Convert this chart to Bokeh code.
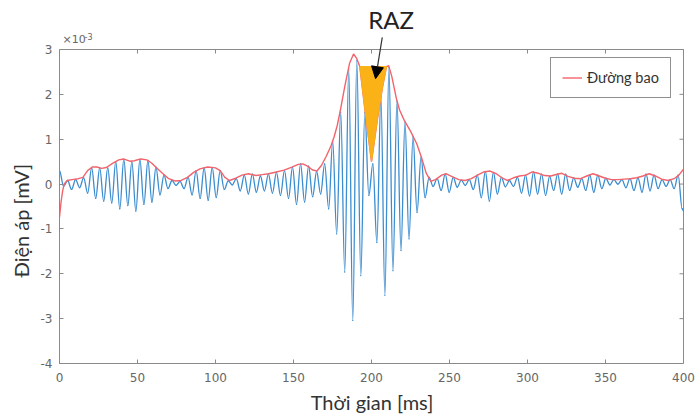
import numpy as np
from bokeh.plotting import figure
from bokeh.models import (Range1d, FixedTicker, Label, Arrow, NormalHead,
                          Legend, LegendItem, Title)
from bokeh.embed import file_html
from bokeh.resources import INLINE

# ---------------- data (voltage in units of 1e-3 mV, time in ms) ----------------
x_ticks = [0, 50, 100, 150, 200, 250, 300, 350, 400]
x_tick_labels = ["0", "50", "100", "150", "200", "250", "300", "350", "400"]
y_ticks = [-4, -3, -2, -1, 0, 1, 2, 3]
y_tick_labels = ["-4", "-3", "-2", "-1", "0", "1", "2", "3"]

# sample clock of the oscillation extremes
TROUGH_START = 2.6
CYCLE_MS = 5.15

signal_start = 0.3
signal_end = -0.6
trough_v = [
    -0.05, -0.12, -0.08, -0.20, -0.32, -0.38, -0.42, -0.55, -0.48, -0.60,
    -0.45, -0.40, -0.24, -0.10, -0.03, -0.10, -0.24, -0.32, -0.36, -0.30,
    -0.12, -0.02, -0.15, -0.22, -0.18, -0.15, -0.20, -0.25, -0.32, -0.45,
    -0.40, -0.28, -0.22, -0.55, -1.11, -1.96, -3.04, -2.04, -0.25, -1.30,
    -2.48, -1.93, -1.48, -1.22, -0.63, -0.30, -0.05, -0.14, -0.18, -0.07,
    -0.03, -0.12, -0.30, -0.38, -0.22, -0.06, -0.05, -0.20, -0.26, -0.22,
    -0.25, -0.14, -0.22, -0.14, -0.07, -0.14, -0.18, -0.10, -0.02, 0.00,
    -0.08, -0.14, -0.18, -0.15, -0.10, -0.05, -0.10, -0.55,
]
peak_v = [
    0.08, 0.10, 0.14, 0.36, 0.36, 0.36, 0.50, 0.55, 0.50, 0.55,
    0.52, 0.38, 0.20, 0.08, 0.06, 0.15, 0.30, 0.36, 0.37, 0.30,
    0.07, 0.12, 0.20, 0.22, 0.18, 0.22, 0.26, 0.30, 0.38, 0.45,
    0.40, 0.28, 0.45, 0.95, 1.60, 2.55, 2.75, 1.60, 0.45, 1.95,
    2.60, 1.85, 1.38, 1.05, 0.60, 0.15, 0.12, 0.22, 0.15, 0.09,
    0.10, 0.20, 0.28, 0.26, 0.15, 0.08, 0.15, 0.20, 0.27, 0.22,
    0.17, 0.22, 0.22, 0.14, 0.12, 0.20, 0.20, 0.13, 0.10, 0.10,
    0.12, 0.14, 0.22, 0.20, 0.10, 0.10, 0.20,
]

env_t = [0, 1, 2, 3, 5, 8, 12, 15, 18, 21, 24, 27, 30, 34, 38, 41, 45, 48, 52, 56,
         59, 62, 66, 70, 74, 78, 82, 86, 90, 95, 100, 103, 106, 109, 113, 117, 121,
         126, 130, 134, 139, 144, 149, 153, 156, 159, 162, 165, 168, 171, 174, 176,
         178, 180, 183, 186, 188.5, 190.5, 192.5, 196, 200, 204, 207, 209.6, 211,
         213, 216, 218, 221, 225, 229, 232, 235, 238, 241, 245, 248, 252, 256, 260,
         264, 268, 272, 276, 280, 284, 287, 291, 295, 299, 303, 307, 311, 315, 319,
         322, 326, 330, 334, 338, 342, 346, 350, 354, 358, 362, 366, 370, 374, 378,
         382, 386, 390, 394, 397, 400]
env_v = [-0.74, -0.40, -0.15, 0.00, 0.08, 0.10, 0.12, 0.15, 0.30, 0.38, 0.38, 0.35,
         0.37, 0.46, 0.54, 0.56, 0.51, 0.52, 0.56, 0.54, 0.47, 0.37, 0.24, 0.12,
         0.07, 0.08, 0.15, 0.26, 0.34, 0.38, 0.36, 0.30, 0.15, 0.08, 0.13, 0.20,
         0.23, 0.19, 0.21, 0.23, 0.27, 0.31, 0.38, 0.44, 0.45, 0.40, 0.32, 0.29,
         0.42, 0.62, 0.85, 1.05, 1.30, 1.64, 2.20, 2.70, 2.90, 2.80, 2.62, 1.60,
         0.50, 1.50, 2.15, 2.62, 2.64, 2.40, 1.90, 1.65, 1.42, 1.18, 0.90, 0.60,
         0.25, 0.06, 0.10, 0.20, 0.23, 0.16, 0.10, 0.08, 0.12, 0.20, 0.27, 0.29,
         0.23, 0.13, 0.08, 0.14, 0.18, 0.20, 0.27, 0.24, 0.19, 0.18, 0.22, 0.24,
         0.17, 0.13, 0.12, 0.18, 0.23, 0.18, 0.13, 0.10, 0.10, 0.11, 0.12, 0.14,
         0.18, 0.23, 0.18, 0.11, 0.08, 0.12, 0.20, 0.33]

RAZ_START = 192.5   # zone between the two envelope peaks
RAZ_END = 209.6

# ---------------- layout / style ----------------
W, H = 698, 418
BORDER_L, BORDER_R, BORDER_B = 59, 14, 55
AXES_TOP_PX = 49            # top of the axes box (frame extends to the top edge)
X0, X1 = x_ticks[0], x_ticks[-1]
Y0, Y1 = y_ticks[0], y_ticks[-1]
px_per_x = 624 / (X1 - X0)
frame_h = H - BORDER_B
px_per_y = (frame_h - AXES_TOP_PX) / (Y1 - Y0)
x_end = X0 + (W - BORDER_L - BORDER_R) / px_per_x
y_end = Y1 + AXES_TOP_PX / px_per_y
TICK_PX = 4

AX_COL = "#8a8a8a"
TICK_TXT = "#666666"
BLUE = "#3b8dd0"
RED = "#f2646c"
ORANGE = "#fbb217"

# signal extremes (time, value)
sig_t = [0.0]
sig_v = [signal_start]
for k, tv in enumerate(trough_v):
    t = TROUGH_START + k * CYCLE_MS
    sig_t.append(t)
    sig_v.append(tv)
    if k < len(peak_v):
        sig_t.append(t + CYCLE_MS / 2)
        sig_v.append(peak_v[k])
sig_t.append(400.0)
sig_v.append(signal_end)

# smooth wave between consecutive extremes (horizontal tangents at extremes)
st = np.array(sig_t)
sv = np.array(sig_v)
dt = np.diff(st)
bz = dict(x0=st[:-1], y0=sv[:-1], x1=st[1:], y1=sv[1:],
          cx0=st[:-1] + 0.36 * dt, cy0=sv[:-1],
          cx1=st[1:] - 0.36 * dt, cy1=sv[1:])

raz_t = [t for t in env_t if RAZ_START <= t <= RAZ_END]
raz_v = [v for t, v in zip(env_t, env_v) if RAZ_START <= t <= RAZ_END]

p = figure(width=W, height=H, x_range=Range1d(X0, x_end), y_range=Range1d(Y0, y_end),
           output_backend="svg", toolbar_location=None, title=None,
           min_border_left=BORDER_L, min_border_right=BORDER_R, min_border_top=0,
           min_border_bottom=BORDER_B)
p.grid.visible = False
p.outline_line_color = None
p.background_fill_color = "white"
p.border_fill_color = "white"

def style_axis(ax, ticks, labels, bounds):
    ax.ticker = FixedTicker(ticks=ticks)
    ax.bounds = bounds
    ax.axis_line_color = AX_COL
    ax.major_tick_line_color = AX_COL
    ax.major_tick_in = TICK_PX
    ax.major_tick_out = 0
    ax.minor_tick_line_color = None
    ax.major_label_overrides = {t: l for t, l in zip(ticks, labels)}
    ax.major_label_text_font = "DejaVu Sans"
    ax.major_label_text_font_size = "12px"
    ax.major_label_text_color = TICK_TXT

style_axis(p.xaxis[0], x_ticks, x_tick_labels, (X0, X1))
style_axis(p.yaxis[0], y_ticks, y_tick_labels, (Y0, Y1))
p.xaxis[0].major_label_standoff = 9
p.yaxis[0].major_label_standoff = 7
xa = p.xaxis[0]
xa.axis_label = "Thời gian [ms]"
xa.axis_label_text_font = "Lato"
xa.axis_label_text_font_size = "20px"
xa.axis_label_text_font_style = "normal"
xa.axis_label_text_color = "#333333"
xa.axis_label_standoff = 5

ytitle = Title(text="Điện áp [mV]", align="left", offset=86, standoff=10,
               text_font="Lato", text_font_size="20px", text_font_style="normal",
               text_color="#333333")
p.add_layout(ytitle, "left")

# top and right edges of the axes box, with inward ticks
tx = TICK_PX / px_per_x
ty = TICK_PX / px_per_y
p.segment(x0=[X0, X1], y0=[Y1, Y0], x1=[X1, X1], y1=[Y1, Y1], color=AX_COL, line_width=1)
p.segment(x0=x_ticks, y0=[Y1] * len(x_ticks), x1=x_ticks, y1=[Y1 - ty] * len(x_ticks),
          color=AX_COL, line_width=1)
p.segment(x0=[X1] * len(y_ticks), y0=y_ticks, x1=[X1 - tx] * len(y_ticks), y1=y_ticks,
          color=AX_COL, line_width=1)

p.bezier(**bz, line_color=BLUE, line_width=1.3, line_cap="round")
r_env = p.line(env_t, env_v, color=RED, line_width=1.4)
p.patch(raz_t, raz_v, fill_color=ORANGE, line_color=ORANGE, line_width=1)

legend = Legend(items=[LegendItem(label="Đường bao", renderers=[r_env])],
                location=(491, 265))
legend.border_line_color = "#222222"
legend.border_line_width = 1
legend.label_text_font = "Lato"
legend.label_text_font_size = "14.5px"
legend.label_text_color = "#333333"
legend.glyph_width = 20
legend.glyph_height = 17
legend.label_height = 17
legend.padding = 11
legend.label_standoff = 5
legend.margin = 0
legend.spacing = 0
p.add_layout(legend)

p.add_layout(Label(x=X0, y=Y1, x_offset=3, y_offset=4, text="×10",
                   text_font="DejaVu Sans", text_font_size="11px",
                   text_color=TICK_TXT, text_baseline="bottom"))
p.add_layout(Label(x=X0, y=Y1, x_offset=25, y_offset=10, text="-3",
                   text_font="DejaVu Sans", text_font_size="8px",
                   text_color=TICK_TXT, text_baseline="bottom"))

p.add_layout(Label(x=212.5, y=Y1, y_offset=30, text="RAZ", text_font="Lato",
                   text_font_size="24px", text_color="#222222",
                   text_align="center", text_baseline="middle"))
p.add_layout(Arrow(end=NormalHead(size=12, fill_color="black", line_color="black"),
                   x_start=206.9, y_start=3.27, x_end=202.6, y_end=2.35,
                   line_color="#333333", line_width=1.2))

open("out.html", "w").write(file_html(p, INLINE))
